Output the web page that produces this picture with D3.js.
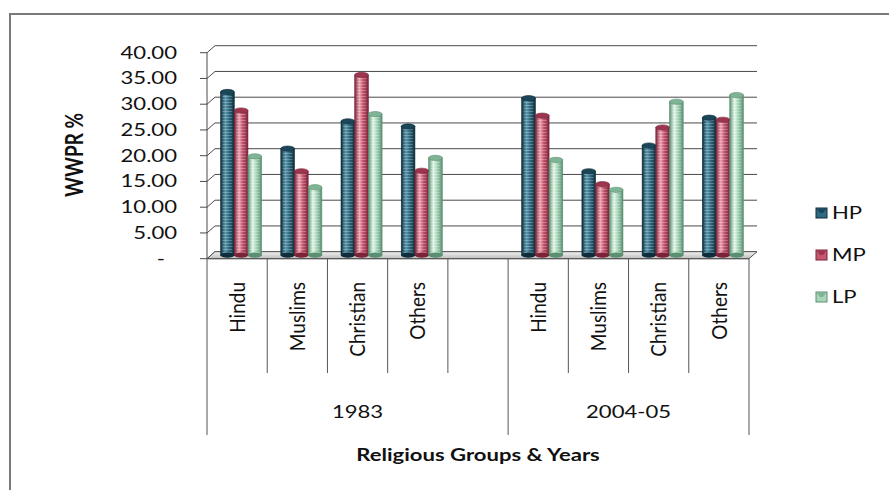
<!DOCTYPE html>
<html>
<head>
<meta charset="utf-8">
<script src="https://cdn.jsdelivr.net/npm/d3@7"></script>
<style>
  body { margin: 0; background: #fff; }
  text { font-family: Lato, "Open Sans", sans-serif; fill: #111; }
</style>
</head>
<body>
<script>
// values
const years = ['1983', '2004-05'];
const religions = ['Hindu', 'Muslims', 'Christian', 'Others'];
const seriesNames = ['HP', 'MP', 'LP'];
const hpValues = [31.7, 20.7, 26.0, 25.0, 30.5, 16.3, 21.3, 26.7];
const mpValues = [28.1, 16.3, 35.0, 16.4, 27.1, 13.8, 24.8, 26.3];
const lpValues = [19.2, 13.2, 27.4, 18.9, 18.5, 12.7, 29.8, 31.1];
const yTicks = [0, 5, 10, 15, 20, 25, 30, 35, 40];

const width = 889, height = 490;
const SX = 1.3;          // the source picture is stretched sideways
const depth = { dx: 8, dy: -7 };
const left = 207, right = 749, floorY = 258.7, topY = 52.7;

const colors = {
  HP: ['#0f2d3a', '#2f6a80', '#5b98ad', '#1b4658'],
  MP: ['#7c2338', '#c4566f', '#eea3b3', '#9c3650'],
  LP: ['#5b8f72', '#a7d6b8', '#e2f6e8', '#7fb596']
};

const svg = d3.select('body').append('svg')
  .attr('width', width).attr('height', height);

const defs = svg.append('defs');
seriesNames.forEach(s => {
  const c = colors[s];
  const grad = defs.append('linearGradient').attr('id', 'g' + s)
    .attr('x1', 0).attr('x2', 1).attr('y1', 0).attr('y2', 0);
  grad.append('stop').attr('offset', '0%').attr('stop-color', c[0]);
  grad.append('stop').attr('offset', '35%').attr('stop-color', c[2]);
  grad.append('stop').attr('offset', '60%').attr('stop-color', c[1]);
  grad.append('stop').attr('offset', '100%').attr('stop-color', c[0]);
});
const stripes = defs.append('pattern').attr('id', 'stripes')
  .attr('width', 4).attr('height', 3).attr('patternUnits', 'userSpaceOnUse');
stripes.append('rect').attr('width', 4).attr('height', 1).attr('fill', '#fff').attr('opacity', 0.25);
const floorGrad = defs.append('linearGradient').attr('id', 'floorGrad')
  .attr('x1', 0).attr('x2', 0).attr('y1', 0).attr('y2', 1);
floorGrad.append('stop').attr('offset', '0%').attr('stop-color', '#f2f2f2');
floorGrad.append('stop').attr('offset', '100%').attr('stop-color', '#bdbdbd');

// frame
svg.append('path')
  .attr('d', `M10,${height} L10,14 L${width},14`)
  .attr('fill', 'none').attr('stroke', '#7a7a7a').attr('stroke-width', 2);

// scales
const slots = years.flatMap((yr, i) => {
  const keys = religions.map(r => yr + '|' + r);
  if (i < years.length - 1) keys.push(yr + '|');
  return keys;
});
const x = d3.scaleBand().domain(slots).range([left, right]);
const xs = d3.scaleBand().domain(seriesNames).range([0, x.bandwidth()])
  .paddingInner(0).paddingOuter(0.7);
const y = d3.scaleLinear().domain([0, 40]).range([floorY, topY]);

const bars = [];
years.forEach((yr, i) => {
  religions.forEach((r, j) => {
    const k = i * religions.length + j;
    bars.push({ slot: yr + '|' + r, s: 'HP', v: hpValues[k] });
    bars.push({ slot: yr + '|' + r, s: 'MP', v: mpValues[k] });
    bars.push({ slot: yr + '|' + r, s: 'LP', v: lpValues[k] });
  });
});

// back wall grid and side wall
const grid = svg.append('g').attr('stroke', '#4a4a4a').attr('stroke-width', 1).attr('fill', 'none');
yTicks.forEach(t => {
  const yy = y(t);
  grid.append('path')
    .attr('d', `M${left - 7},${yy} L${left},${yy} L${left + depth.dx},${yy + depth.dy} L${right + depth.dx},${yy + depth.dy}`);
});
grid.append('line')
  .attr('x1', left).attr('x2', left).attr('y1', y(40)).attr('y2', floorY);

// floor
svg.append('path')
  .attr('d', `M${left},${floorY} L${right},${floorY} L${right + depth.dx},${floorY + depth.dy} L${left + depth.dx},${floorY + depth.dy} Z`)
  .attr('fill', 'url(#floorGrad)').attr('stroke', '#555').attr('stroke-width', 1);

// bars as cylinders, standing in the middle of the depth
const bx = d => x(d.slot) + xs(d.s) + depth.dx / 2;
const byOff = depth.dy / 2;
const bw = xs.bandwidth();
const capRy = 2.6;
const barG = svg.append('g');
barG.selectAll('rect.bar').data(bars).join('rect')
  .attr('class', 'bar')
  .attr('x', bx).attr('width', bw)
  .attr('y', d => y(d.v) + byOff)
  .attr('height', d => y(0) - y(d.v))
  .attr('fill', d => `url(#g${d.s})`)
  .attr('stroke', d => colors[d.s][0]).attr('stroke-width', 0.6);
barG.selectAll('rect.str').data(bars).join('rect')
  .attr('class', 'str')
  .attr('x', d => bx(d) + 2).attr('width', bw - 4)
  .attr('y', d => y(d.v) + byOff)
  .attr('height', d => y(0) - y(d.v))
  .attr('fill', 'url(#stripes)');
barG.selectAll('ellipse.base').data(bars).join('ellipse')
  .attr('class', 'base')
  .attr('cx', d => bx(d) + bw / 2).attr('cy', y(0) + byOff)
  .attr('rx', bw / 2).attr('ry', capRy)
  .attr('fill', d => colors[d.s][0]);
barG.selectAll('ellipse.cap').data(bars).join('ellipse')
  .attr('class', 'cap')
  .attr('cx', d => bx(d) + bw / 2).attr('cy', d => y(d.v) + byOff)
  .attr('rx', bw / 2).attr('ry', capRy)
  .attr('fill', d => colors[d.s][3])
  .attr('stroke', d => colors[d.s][0]).attr('stroke-width', 0.6);

// category axis
const axisG = svg.append('g').attr('stroke', '#555').attr('stroke-width', 1);
axisG.append('line')
  .attr('x1', left).attr('x2', right).attr('y1', floorY).attr('y2', floorY);
const groupStarts = years.map((yr, i) => i === 0 ? left : x(yr + '|' + religions[0]));
slots.forEach(s => {
  const xx = x(s);
  const isGroup = groupStarts.includes(xx);
  axisG.append('line')
    .attr('x1', xx).attr('x2', xx).attr('y1', floorY).attr('y2', isGroup ? 435 : 373);
});
axisG.append('line')
  .attr('x1', right).attr('x2', right).attr('y1', floorY).attr('y2', 435);

function label(str, px, py, opts = {}) {
  return svg.append('text')
    .attr('transform', `translate(${px},${py}) scale(${opts.sx || SX},1)${opts.rotate ? ' rotate(-90)' : ''}`)
    .attr('text-anchor', opts.anchor || 'middle')
    .attr('font-size', opts.size || 17)
    .attr('font-weight', opts.bold ? 'bold' : 'normal')
    .attr('dy', opts.dy || 0)
    .text(str);
}

// y tick labels
const fmt = d3.format('.2f');
yTicks.forEach(t => {
  label(t === 0 ? '-' : fmt(t), t === 0 ? 165 : 177, y(t) + 6, { anchor: 'end' });
});
label('WWPR %', 74, 155, { rotate: true, bold: true, size: 19, dy: '0.35em' });

// category labels
slots.forEach(s => {
  const name = s.split('|')[1];
  if (!name) return;
  label(name, x(s) + x.bandwidth() / 2, 282,
    { rotate: true, anchor: 'end', size: 19, sx: 1.15, dy: '0.35em' });
});
years.forEach((yr, i) => {
  const x0 = groupStarts[i];
  const x1 = i < years.length - 1 ? groupStarts[i + 1] : right;
  label(yr, (x0 + x1) / 2, 418);
});
label('Religious Groups & Years', (left + right) / 2, 461, { bold: true });

// legend
const legendY = [213, 255, 297];
seriesNames.forEach((s, i) => {
  const ly = legendY[i];
  svg.append('rect')
    .attr('x', 816).attr('y', ly - 5).attr('width', 11).attr('height', 10)
    .attr('fill', colors[s][1]).attr('stroke', colors[s][0]).attr('stroke-width', 1);
  svg.append('path')
    .attr('d', `M817,${ly - 4} L826,${ly - 4} L823,${ly} L820,${ly} Z`)
    .attr('fill', colors[s][3]);
  label(s, 832, ly + 6, { anchor: 'start' });
});
</script>
</body>
</html>
